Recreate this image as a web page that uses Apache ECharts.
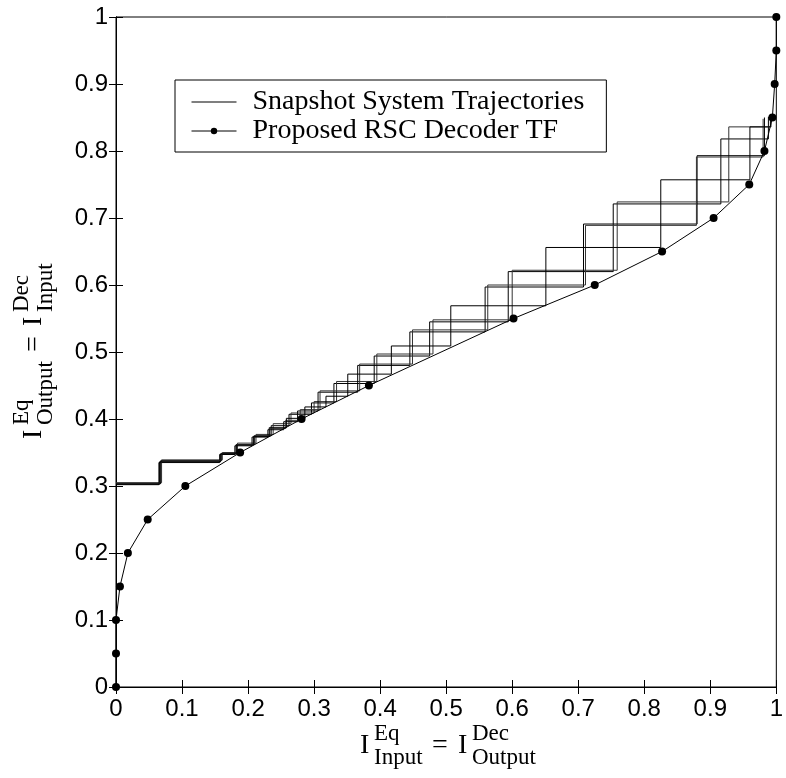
<!DOCTYPE html>
<html><head><meta charset="utf-8">
<script src="https://cdn.jsdelivr.net/npm/echarts@6/dist/echarts.min.js"></script>
<style>html,body{margin:0;padding:0;background:#fff}#c{width:786px;height:778px}</style>
</head><body><div id="c"></div>
<script>
// Tick labels
const xTickLabels = ['0','0.1','0.2','0.3','0.4','0.5','0.6','0.7','0.8','0.9','1'];
const yTickLabels = ['0','0.1','0.2','0.3','0.4','0.5','0.6','0.7','0.8','0.9','1'];

// Proposed RSC decoder transfer function (x = decoder output MI, y = decoder input MI)
const decX = [0, 0, 0, 0.006, 0.018, 0.048, 0.105, 0.188, 0.281, 0.383, 0.602, 0.725, 0.827, 0.905, 0.959, 0.982, 0.994, 0.9975, 1.0, 1.0];
const decY = [0, 0.05, 0.10, 0.15, 0.20, 0.25, 0.30, 0.35, 0.40, 0.45, 0.55, 0.60, 0.65, 0.70, 0.75, 0.80, 0.85, 0.90, 0.95, 1.0];

// Snapshot trajectories: x of each vertical step, y level reached after that step
const t1X = [0, 0.066, 0.158, 0.182, 0.210, 0.235, 0.262, 0.296, 0.330, 0.391, 0.475, 0.594, 0.753, 0.916, 0.988];
const t1Y = [0.303, 0.336, 0.348, 0.362, 0.375, 0.390, 0.407, 0.424, 0.453, 0.494, 0.545, 0.620, 0.721, 0.818, 0.851];
const t2X = [0, 0.069, 0.161, 0.184, 0.212, 0.238, 0.265, 0.300, 0.334, 0.395, 0.480, 0.600, 0.759, 0.928, 0.992];
const t2Y = [0.305, 0.339, 0.350, 0.364, 0.377, 0.393, 0.409, 0.426, 0.456, 0.497, 0.548, 0.622, 0.724, 0.836, 0.853];
const t3X = [0, 0.065, 0.157, 0.180, 0.206, 0.230, 0.254, 0.275, 0.306, 0.366, 0.445, 0.559, 0.708, 0.880, 0.982];
const t3Y = [0.302, 0.335, 0.347, 0.360, 0.373, 0.384, 0.396, 0.412, 0.440, 0.480, 0.530, 0.597, 0.691, 0.793, 0.850];
const t4X = [0, 0.068, 0.160, 0.183, 0.209, 0.233, 0.257, 0.279, 0.309, 0.369, 0.449, 0.563, 0.711, 0.879, 0.980];
const t4Y = [0.304, 0.338, 0.349, 0.362, 0.375, 0.386, 0.398, 0.414, 0.442, 0.482, 0.533, 0.600, 0.689, 0.791, 0.848];
const t5X = [0, 0.067, 0.159, 0.182, 0.208, 0.232, 0.258, 0.286, 0.318, 0.351, 0.417, 0.507, 0.651, 0.825, 0.960, 0.991];
const t5Y = [0.303, 0.337, 0.348, 0.361, 0.374, 0.387, 0.401, 0.418, 0.434, 0.467, 0.509, 0.569, 0.656, 0.757, 0.836, 0.852];

const trajName = 'Snapshot System Trajectories';
const decName = 'Proposed RSC Decoder TF';

function stairs(xs, ys) {
  const pts = [[xs[0], ys[0]]];
  for (let k = 1; k < xs.length; k++) {
    pts.push([xs[k], ys[k - 1]]);
    pts.push([xs[k], ys[k]]);
  }
  return pts;
}

const trajs = [[t1X, t1Y, '#000'], [t2X, t2Y, '#333'], [t3X, t3Y, '#000'], [t4X, t4Y, '#333'], [t5X, t5Y, '#000']];

const chart = echarts.init(document.getElementById('c'), null, {renderer: 'canvas'});

const serif = '"Liberation Serif","Times New Roman",serif';
const sans = '"Liberation Sans",Arial,sans-serif';

// Math-style axis title: I_{subA}^{supA} = I_{subB}^{supB}, laid out horizontally (local coords)
function mathTitle(supA, subA, supB, subB, eqX, iBX) {
  const main = '28px ' + serif, small = '23px ' + serif;
  const t = (text, x, y, font) => ({type: 'text', x: x, y: y, style: {text: text, font: font, fill: '#000', verticalAlign: 'middle'}});
  return [
    t('I', 0, 0, main),
    t(supA, 14, -12, small),
    t(subA, 14, 12, small),
    t('=', eqX, 0, main),
    t('I', iBX, 0, main),
    t(supB, iBX + 14, -12, small),
    t(subB, iBX + 14, 12, small)
  ];
}

const xTitle = mathTitle('Eq', 'Input', 'Dec', 'Output', 72, 98);
const yTitle = mathTitle('Eq', 'Output', 'Dec', 'Input', 87, 113);

const series = trajs.map(t => ({
  name: trajName, type: 'line', data: stairs(t[0], t[1]), showSymbol: false, symbol: 'none',
  lineStyle: {color: t[2], width: 1}, itemStyle: {color: '#000'}, animation: false, z: 2
}));
series.push({
  name: decName, type: 'line', data: decX.map((x, i) => [x, decY[i]]),
  symbol: 'circle', symbolSize: 8, lineStyle: {color: '#000', width: 1}, itemStyle: {color: '#000'},
  animation: false, z: 3
});

const axisLabelCommon = {color: '#000', fontFamily: sans, fontSize: 24};

chart.setOption({
  backgroundColor: '#fff',
  animation: false,
  grid: {left: 116, right: 3, top: 17, bottom: 91, show: true, borderColor: '#000', borderWidth: 1, backgroundColor: 'transparent'},
  legend: {
    data: [
      {name: trajName, icon: 'path://M0,0H45V1.2H0Z'},
      {name: decName}
    ],
    orient: 'vertical', left: 175, top: 80,
    backgroundColor: '#fff', borderColor: '#000', borderWidth: 1,
    padding: [8, 22, 7, 16], itemGap: 1, itemWidth: 45, itemHeight: 8,
    lineStyle: {width: 1},
    textStyle: {fontFamily: serif, fontSize: 28, color: '#000', padding: [0, 0, 0, 11]},
    selectedMode: false
  },
  xAxis: [
    {type: 'value', min: 0, max: 1, interval: 0.1, position: 'bottom',
     axisLine: {show: true, lineStyle: {color: '#000', width: 1}},
     axisTick: {show: true, inside: true, length: 7, lineStyle: {color: '#000'}},
     axisLabel: Object.assign({margin: 10, formatter: (v) => xTickLabels[Math.round(v * 10)]}, axisLabelCommon),
     splitLine: {show: false}},
    {type: 'value', min: 0, max: 1, interval: 0.1, position: 'top',
     axisLine: {show: true, lineStyle: {color: '#000', width: 1}},
     axisTick: {show: true, inside: true, length: 7, lineStyle: {color: '#000'}},
     axisLabel: {show: false}, splitLine: {show: false}}
  ],
  yAxis: [
    {type: 'value', min: 0, max: 1, interval: 0.1, position: 'left',
     axisLine: {show: true, lineStyle: {color: '#000', width: 1}},
     axisTick: {show: true, inside: true, length: 7, lineStyle: {color: '#000'}},
     axisLabel: Object.assign({margin: 8, formatter: (v) => yTickLabels[Math.round(v * 10)]}, axisLabelCommon),
     splitLine: {show: false}},
    {type: 'value', min: 0, max: 1, interval: 0.1, position: 'right',
     axisLine: {show: true, lineStyle: {color: '#000', width: 1}},
     axisTick: {show: true, inside: true, length: 7, lineStyle: {color: '#000'}},
     axisLabel: {show: false}, splitLine: {show: false}}
  ],
  graphic: [
    {type: 'group', x: 360, y: 746, children: xTitle, silent: true},
    {type: 'group', x: 34, y: 439, rotation: Math.PI / 2, children: yTitle, silent: true}
  ],
  series: series
});
</script></body></html>
